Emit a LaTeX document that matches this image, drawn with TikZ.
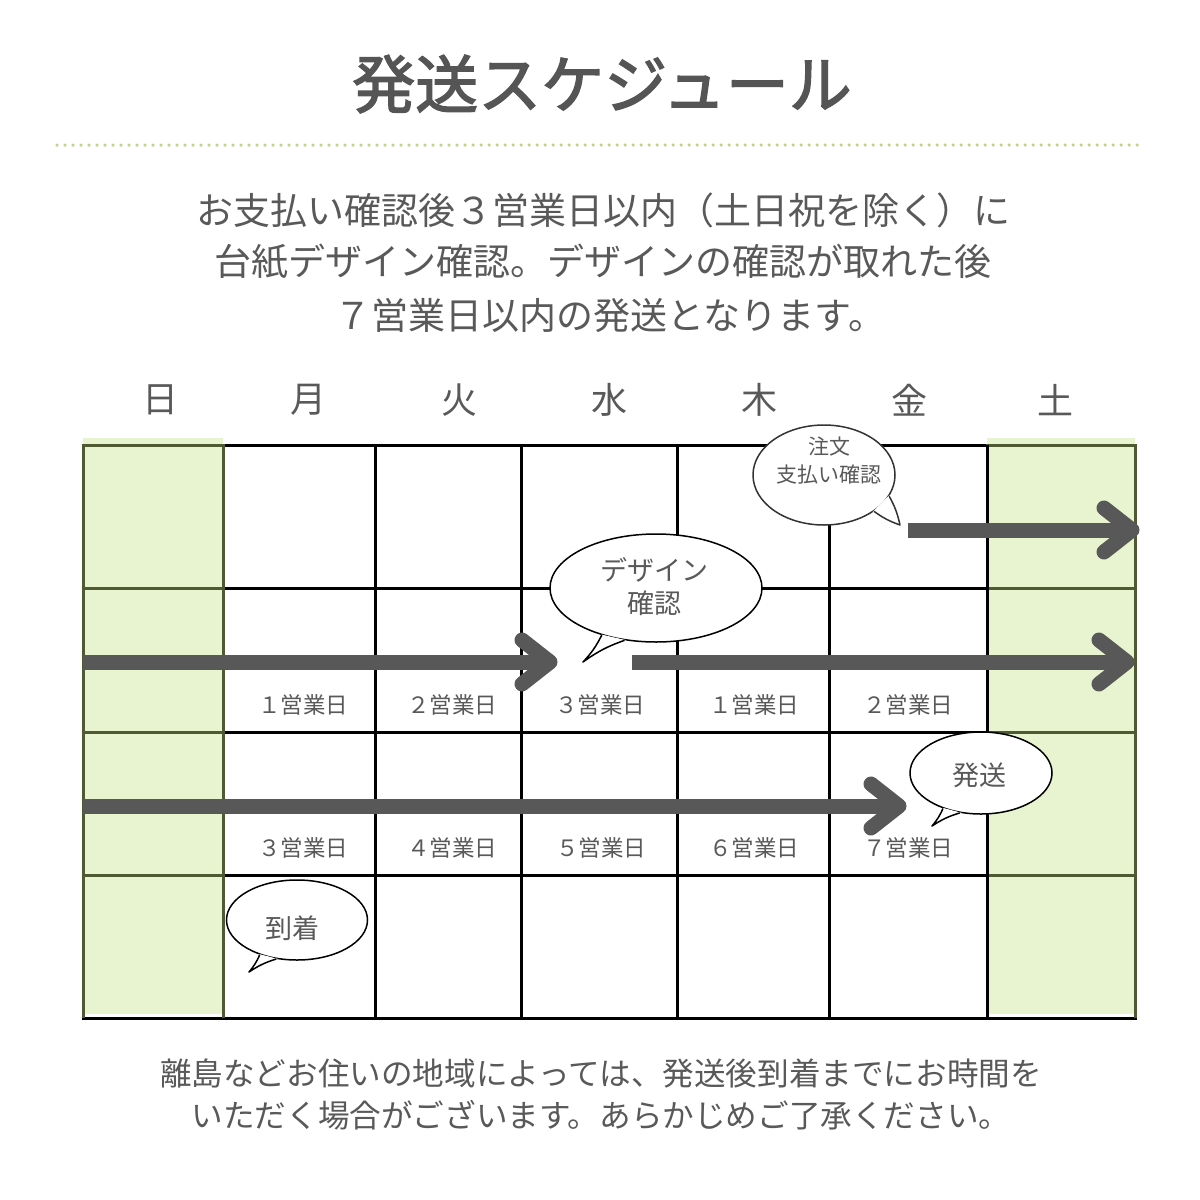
\documentclass[tikz,border=0pt]{standalone}
\usepackage{fontspec}
\setmainfont{Noto Sans CJK JP}
\newfontfamily\ttlfont{Noto Sans CJK JP}[FakeBold=2.2]
\usetikzlibrary{shapes.geometric,calc}
\definecolor{txt}{HTML}{595959}
\definecolor{ttl}{HTML}{555555}
\definecolor{dotc}{HTML}{BCD67A}
\definecolor{wkend}{HTML}{E8F4D0}
\definecolor{olive}{HTML}{505A32}
\definecolor{arr}{HTML}{585858}
\begin{document}
\begin{tikzpicture}[x=1pt,y=-1pt,
  txtstyle/.style={inner sep=0pt, text=txt},
  dayl/.style={txtstyle, font=\fontsize{36}{40}\selectfont},
  bizl/.style={txtstyle, font=\fontsize{22.5}{26}\selectfont},
  bubtxt/.style={txtstyle, font=\fontsize{27}{32}\selectfont},
  bubble/.style={ellipse, draw=black, fill=white, line width=1.5pt, inner sep=0pt},
  tailfill/.style={fill=white, draw=white, line width=1pt},
  tailline/.style={draw=black, line width=1.5pt, line join=round},
  gridb/.style={draw=black, line width=3pt},
  grido/.style={draw=olive, line width=3pt},
  shaft/.style={draw=arr, line width=15pt},
  chev/.style={draw=arr, line width=15pt, line cap=round, line join=round}
]
\useasboundingbox (0,0) rectangle (1200,1200);
\fill[white] (0,0) rectangle (1200,1200);

% title
\node[inner sep=0pt, text=ttl, font=\fontsize{63}{70}\selectfont\ttlfont] (title) at (602,84) {発送スケジュール};
\draw[dotc, line width=3.5pt, line cap=round, dash pattern=on 0pt off 8pt] (57,145) -- (1140,145);

% paragraph
\node[txtstyle, font=\fontsize{37}{44}\selectfont] (p1) at (603,210) {お支払い確認後３営業日以内（土日祝を除く）に};
\node[txtstyle, font=\fontsize{37}{44}\selectfont] (p2) at (603,262) {台紙デザイン確認。デザインの確認が取れた後};
\node[txtstyle, font=\fontsize{37}{44}\selectfont] (p3) at (610,315) {７営業日以内の発送となります。};

% day labels
\node[dayl] (d0) at (160,400) {日};
\node[dayl] (d1) at (308,400) {月};
\node[dayl] (d2) at (459,400) {火};
\node[dayl] (d3) at (609,400) {水};
\node[dayl] (d4) at (759,400) {木};
\node[dayl] (d5) at (909,400) {金};
\node[dayl] (d6) at (1055,400) {土};

% weekend columns
\fill[wkend] (83,438) rectangle (223,1014);
\fill[wkend] (987,438) rectangle (1135,1014);

% grid (black)
\foreach \y in {445,588,732,875} { \draw[gridb] (223,\y) -- (987,\y); }
\draw[gridb] (81.5,1018) -- (1136.5,1018);
\foreach \x in {375,521,677,829,987} { \draw[gridb] (\x,445) -- (\x,1018); }
% grid (olive)
\foreach \y in {445,588,732,875} {
  \draw[grido] (81.5,\y) -- (224.5,\y);
  \draw[grido] (985.5,\y) -- (1136.5,\y);
}
\draw[grido] (83,445) -- (83,1018);
\draw[grido] (223,445) -- (223,1018);
\draw[grido] (1135,445) -- (1135,1018);
\draw[gridb] (987,445) -- (987,1018);

% business-day labels
\node[bizl] (a1) at (303,705) {１営業日};
\node[bizl] (a2) at (452,705) {２営業日};
\node[bizl] (a3) at (600,705) {３営業日};
\node[bizl] (a4) at (754,705) {１営業日};
\node[bizl] (a5) at (908,705) {２営業日};
\node[bizl] (c1) at (303,848) {３営業日};
\node[bizl] (c2) at (452,848) {４営業日};
\node[bizl] (c3) at (601,848) {５営業日};
\node[bizl] (c4) at (754,848) {６営業日};
\node[bizl] (c5) at (908,848) {７営業日};

% arrows
\coordinate (r1s) at (908,530); \coordinate (r1t) at (1132,530);
\coordinate (r2s) at (83,662);  \coordinate (r2t) at (550,662);
\coordinate (r3s) at (632,662); \coordinate (r3t) at (1127,662);
\coordinate (r4s) at (83,806);  \coordinate (r4t) at (899,806);
\foreach \s/\t in {r1s/r1t, r2s/r2t, r3s/r3t, r4s/r4t} {
  \draw[shaft] (\s) -- ($(\t)+(-4,0)$);
  \draw[chev] ($(\t)+(-28,-22)$) -- (\t) -- ($(\t)+(-28,22)$);
}

% bubble 1
\node[bubble, draw=black!80, minimum width=142pt, minimum height=100pt] (b1) at (824,475) {};
\coordinate (t1) at (900,525);
\path[tailfill] (b1.-18) -- (t1) -- (b1.-36) -- cycle;
\draw[tailline, draw=black!80] (b1.-18) to[bend left=8] (t1) to[bend left=8] (b1.-36);
\node[txtstyle, font=\fontsize{21}{25}\selectfont] (b1a) at (829,447) {注文};
\node[txtstyle, font=\fontsize{21}{25}\selectfont] (b1b) at (829,475) {支払い確認};

% bubble 2
\node[bubble, minimum width=212pt, minimum height=108pt] (b2) at (656,588) {};
\coordinate (t2) at (583,662);
\path[tailfill] (b2.-139) -- (t2) -- (b2.-121) -- cycle;
\draw[tailline] (b2.-139) to[bend left=8] (t2) to[bend left=8] (b2.-121);
\node[bubtxt] (b2a) at (654,570) {デザイン};
\node[bubtxt] (b2b) at (654,603) {確認};

% bubble 3
\node[bubble, minimum width=142pt, minimum height=82pt] (b3) at (981,773) {};
\coordinate (t3) at (932,826);
\path[tailfill] (b3.-137) -- (t3) -- (b3.-118) -- cycle;
\draw[tailline] (b3.-137) to[bend left=8] (t3) to[bend left=8] (b3.-118);
\node[bubtxt] (b3a) at (979,775) {発送};

% bubble 4
\node[bubble, minimum width=141pt, minimum height=80pt] (b4) at (297,920) {};
\coordinate (t4) at (249,972);
\path[tailfill] (b4.-137) -- (t4) -- (b4.-118) -- cycle;
\draw[tailline] (b4.-137) to[bend left=8] (t4) to[bend left=8] (b4.-118);
\node[bubtxt] (b4a) at (292,928) {到着};

% bottom note
\node[txtstyle, font=\fontsize{31.6}{38}\selectfont] (n1) at (601,1073) {離島などお住いの地域によっては、発送後到着までにお時間を};
\node[txtstyle, font=\fontsize{31.6}{38}\selectfont] (n2) at (601,1115) {いただく場合がございます。あらかじめご了承ください。};
\end{tikzpicture}
\end{document}
